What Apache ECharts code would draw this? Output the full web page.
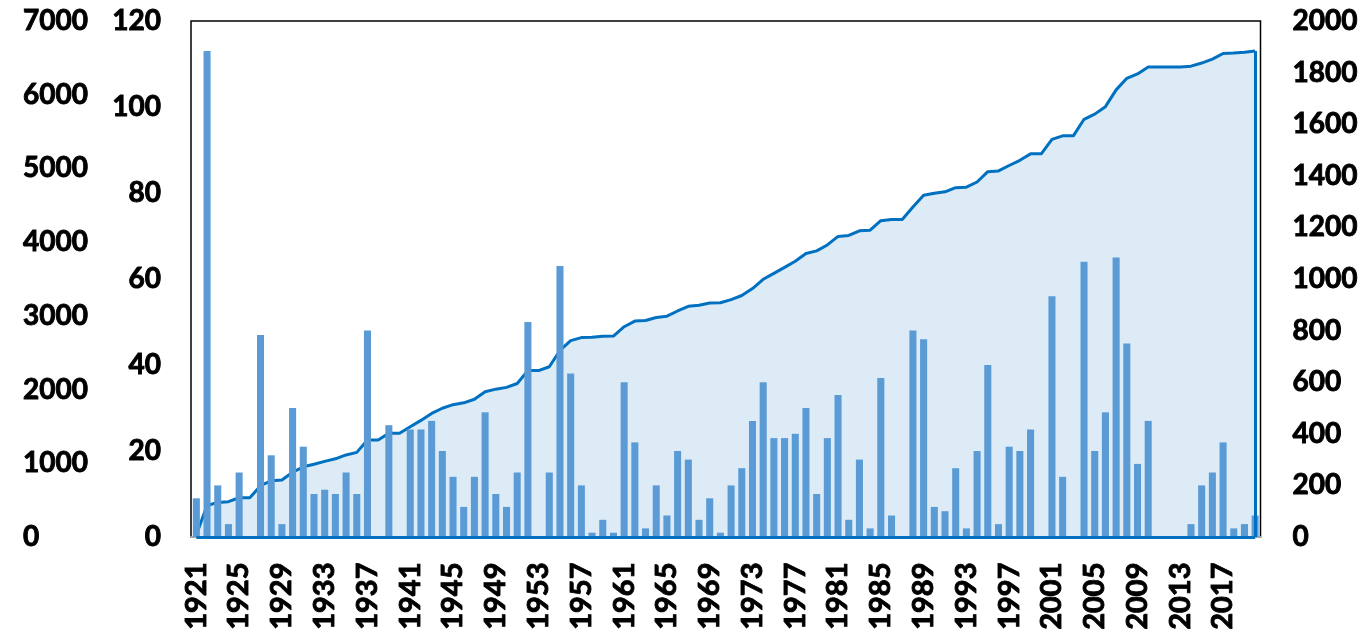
<!DOCTYPE html>
<html>
<head>
<meta charset="utf-8">
<script src="https://cdn.jsdelivr.net/npm/echarts@6/dist/echarts.min.js"></script>
<style>
html,body{margin:0;padding:0;background:#fff;}
#chart{width:1365px;height:634px;}
</style>
</head>
<body>
<div id="chart"></div>
<script>
const years = ['1921','1922','1923','1924','1925','1926','1927','1928','1929','1930',
'1931','1932','1933','1934','1935','1936','1937','1938','1939','1940',
'1941','1942','1943','1944','1945','1946','1947','1948','1949','1950',
'1951','1952','1953','1954','1955','1956','1957','1958','1959','1960',
'1961','1962','1963','1964','1965','1966','1967','1968','1969','1970',
'1971','1972','1973','1974','1975','1976','1977','1978','1979','1980',
'1981','1982','1983','1984','1985','1986','1987','1988','1989','1990',
'1991','1992','1993','1994','1995','1996','1997','1998','1999','2000',
'2001','2002','2003','2004','2005','2006','2007','2008','2009','2010',
'2011','2012','2013','2014','2015','2016','2017','2018','2019','2020'];

const annualValues = [9,113,12,3,15,0,47,19,3,30,
21,10,11,10,15,10,48,0,26,0,
25,25,27,20,14,7,14,29,10,7,
15,50,0,15,63,38,12,1,4,1,
36,22,2,12,5,20,18,4,9,1,
12,16,27,36,23,23,24,30,10,23,
33,4,18,2,37,5,0,48,46,7,
6,16,2,20,40,3,21,20,25,0,
56,14,0,64,20,29,65,45,17,27,
0,0,0,3,12,15,22,2,3,5];

const cumulativeValues = [9,122,134,137,152,152,199,218,221,251,
272,282,293,303,318,328,376,376,402,402,
427,452,479,499,513,520,534,563,573,580,
595,645,645,660,723,761,773,774,778,779,
815,837,839,851,856,876,894,898,907,908,
920,936,963,999,1022,1045,1069,1099,1109,1132,
1165,1169,1187,1189,1226,1231,1231,1279,1325,1332,
1338,1354,1356,1376,1416,1419,1440,1460,1485,1485,
1541,1555,1555,1619,1639,1668,1733,1778,1795,1822,
1822,1822,1822,1825,1837,1852,1874,1876,1879,1884];

const outerLeftTicks = {min:0, max:7000, interval:1000};
const innerLeftTicks = {min:0, max:120, interval:20};
const rightTicks = {min:0, max:2000, interval:200};

const FONT = 'Lato, "Open Sans", "Liberation Sans", sans-serif';
const labelStyle = {fontFamily: FONT, fontWeight: 'bold', fontSize: 28, color: '#000',
  textBorderColor: '#000', textBorderWidth: 0.9, formatter: function (v) { return String(v); }};

const chart = echarts.init(document.getElementById('chart'), null, {renderer:'canvas'});
const lastYear = years[years.length-1];
const firstYear = years[0];
const lastCum = cumulativeValues[cumulativeValues.length-1];

chart.setOption({
  animation: false,
  backgroundColor: '#fff',
  grid: {left: 191, right: 104.5, top: 21, height: 516, show: true, borderColor: '#000', borderWidth: 1.5, backgroundColor: 'transparent'},
  xAxis: {
    type: 'category', data: years, boundaryGap: true, offset: 1.5,
    axisLine: {show: true, lineStyle: {color: '#A6A6A6', width: 2}},
    axisTick: {show: false},
    axisLabel: Object.assign({}, labelStyle, {rotate: 90, interval: 3, margin: 24, fontSize: 29}),
    splitLine: {show: false}
  },
  yAxis: [
    Object.assign({type: 'value', position: 'left', offset: 0,
      axisLine: {show: false}, axisTick: {show: false}, splitLine: {show: false},
      axisLabel: Object.assign({}, labelStyle, {align: 'left', margin: 168, padding: [5,0,0,0]})}, outerLeftTicks),
    Object.assign({type: 'value', position: 'left', offset: 0,
      axisLine: {show: false}, axisTick: {show: false}, splitLine: {show: false},
      axisLabel: Object.assign({}, labelStyle, {align: 'right', margin: 30})}, innerLeftTicks),
    Object.assign({type: 'value', position: 'right', offset: 0,
      axisLine: {show: false}, axisTick: {show: false}, splitLine: {show: false},
      axisLabel: Object.assign({}, labelStyle, {align: 'left', margin: 32, padding: [3,0,0,0]})}, rightTicks)
  ],
  series: [
    {
      name: 'Cumulative', type: 'line', yAxisIndex: 2, data: cumulativeValues,
      symbol: 'none', smooth: false, z: 2,
      lineStyle: {color: '#0070C0', width: 3},
      areaStyle: {color: '#DDEBF7', opacity: 1},
      markLine: {
        silent: true, symbol: ['none','none'], label: {show: false},
        lineStyle: {color: '#0070C0', width: 3, type: 'solid'},
        data: [
          [{coord: [lastYear, lastCum]}, {coord: [lastYear, 0]}],
          [{coord: [firstYear, 0]}, {coord: [lastYear, 0]}]
        ]
      }
    },
    {
      name: 'Annual', type: 'bar', yAxisIndex: 1, data: annualValues,
      barWidth: '66%', z: 3,
      itemStyle: {color: '#5B9BD5'}
    }
  ]
});
</script>
</body>
</html>
